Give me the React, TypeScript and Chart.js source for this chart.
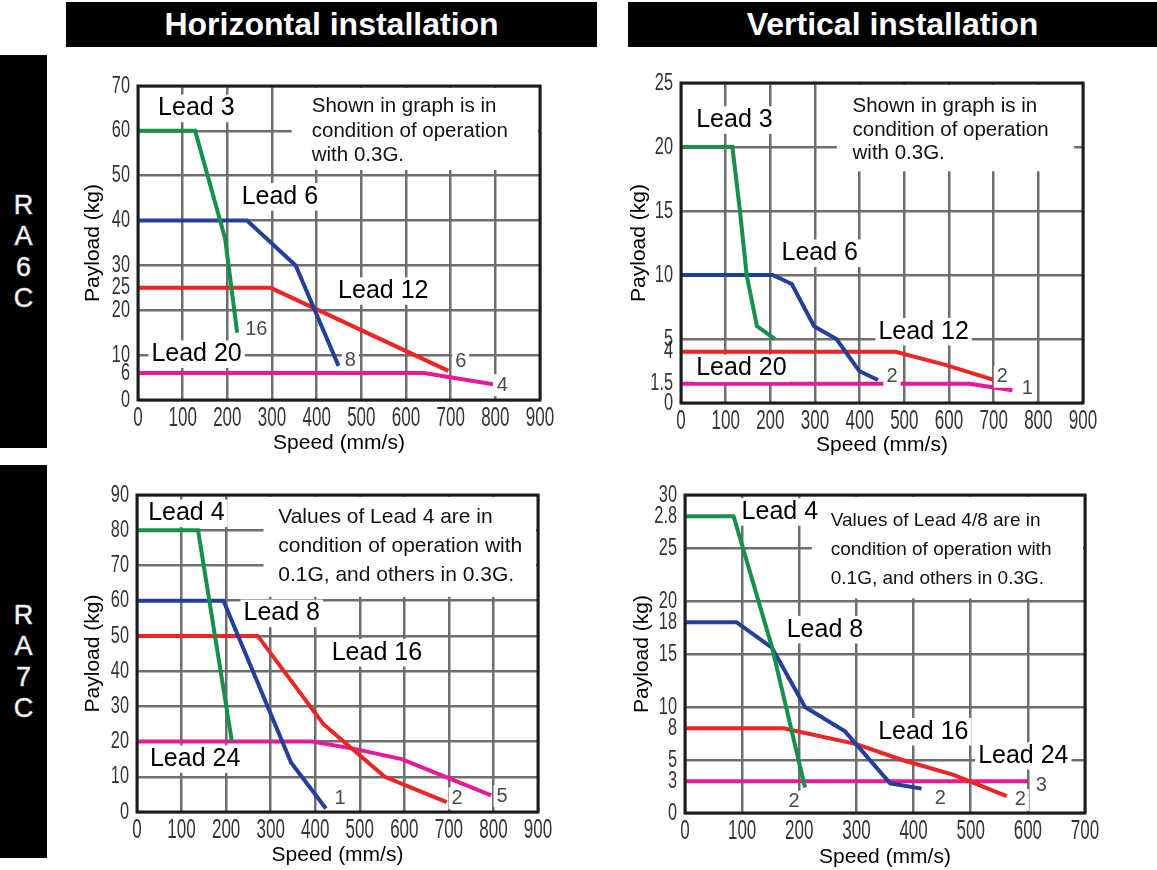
import React, { useEffect, useRef } from "react";
import { Chart, registerables } from "chart.js";

Chart.register(...registerables);

// ================= DATA =================
// RA6C – horizontal installation (speed mm/s, payload kg)
const h6Lead3Speed = [0, 128, 195, 222];
const h6Lead3Payload = [60, 60, 36, 15];
const h6Lead6Speed = [0, 244, 353, 449];
const h6Lead6Payload = [40, 40, 30, 7.6];
const h6Lead12Speed = [0, 297, 695];
const h6Lead12Payload = [25, 25, 6.5];
const h6Lead20Speed = [0, 640, 795];
const h6Lead20Payload = [6, 6, 3.5];
const h6XTicks = [0, 100, 200, 300, 400, 500, 600, 700, 800, 900];
const h6YTicks = [0, 6, 10, 20, 25, 30, 40, 50, 60, 70];
const h6YGrid = [0, 10, 20, 30, 40, 50, 60, 70];

// RA6C – vertical installation
const v6Lead3Speed = [0, 115, 132, 147, 170, 210];
const v6Lead3Payload = [20, 20, 15, 10, 6, 5];
const v6Lead6Speed = [0, 205, 248, 298, 348, 399, 441];
const v6Lead6Payload = [10, 10, 9.3, 6, 5, 2.5, 1.8];
const v6Lead12Speed = [0, 480, 590, 700];
const v6Lead12Payload = [4, 4, 3, 1.8];
const v6Lead20Speed = [0, 646, 742];
const v6Lead20Payload = [1.5, 1.5, 1];
const v6XTicks = [0, 100, 200, 300, 400, 500, 600, 700, 800, 900];
const v6YTicks = [0, 1.5, 4, 5, 10, 15, 20, 25];
const v6YGrid = [0, 5, 10, 15, 20, 25];

// RA7C – horizontal installation
const h7Lead4Speed = [0, 137, 213];
const h7Lead4Payload = [80, 80, 20];
const h7Lead8Speed = [0, 194, 346, 424];
const h7Lead8Payload = [60, 60, 14, 1];
const h7Lead16Speed = [0, 271, 418, 556, 695];
const h7Lead16Payload = [50, 50, 25, 10, 2.8];
const h7Lead24Speed = [0, 392, 485, 594, 795];
const h7Lead24Payload = [20, 20, 18, 15, 4.7];
const h7XTicks = [0, 100, 200, 300, 400, 500, 600, 700, 800, 900];
const h7YTicks = [0, 10, 20, 30, 40, 50, 60, 70, 80, 90];
const h7YGrid = [0, 10, 20, 30, 40, 50, 60, 70, 80, 90];

// RA7C – vertical installation
const v7Lead4Speed = [0, 85, 152, 210];
const v7Lead4Payload = [28, 28, 15.7, 2.4];
const v7Lead8Speed = [0, 90, 152, 210, 280, 359, 414];
const v7Lead8Payload = [18, 18, 15.6, 10, 7.7, 2.8, 2.3];
const v7Lead16Speed = [0, 172, 300, 380, 470, 563];
const v7Lead16Payload = [8, 8, 6.5, 5, 3.6, 1.6];
const v7Lead24Speed = [0, 600];
const v7Lead24Payload = [3, 3];
const v7XTicks = [0, 100, 200, 300, 400, 500, 600, 700];
const v7YTicks = [0, 3, 5, 8, 10, 15, 18, 20, 25, 28, 30];
const v7YGrid = [0, 5, 10, 15, 20, 25, 30];
const v7YTickText: Record<number, string> = { 28: "2.8" };

// Notes
const noteA = ["Shown in graph is in", "condition of operation", "with 0.3G."];
const noteB = ["Values of Lead 4 are in", "condition of operation with", "0.1G, and others in 0.3G."];
const noteC = ["Values of Lead 4/8 are in", "condition of operation with", "0.1G, and others in 0.3G."];

// ================= STYLE / LAYOUT =================
const GREEN = "#17904b";
const BLUE = "#223f9c";
const RED = "#ee2323";
const MAGENTA = "#e8189a";
const GRID = "#6e6e6e";
const SANS = "'Liberation Sans', Arial, 'DejaVu Sans', sans-serif";

type Series = { speed: number[]; payload: number[]; color: string };
type Txt = { text: string; x: number; y: number };
type Panel = {
  series: Series[];
  xMax: number;
  yMax: number;
  xTicks: number[];
  yTicks: number[];
  yGrid: number[];
  yTickText?: Record<number, string>;
  leads: Txt[];
  ends: Txt[];
  note: string[];
  noteX: number;
  noteYs: number[];
  noteSize: number;
  noteBox: [number, number, number, number];
  canvas: { left: number; top: number; w: number; h: number };
  area: { l: number; t: number; r: number; b: number };
  yTitlePad: number;
  xTitlePad: number;
};

const panels: Panel[] = [
  {
    series: [
      { speed: h6Lead3Speed, payload: h6Lead3Payload, color: GREEN },
      { speed: h6Lead6Speed, payload: h6Lead6Payload, color: BLUE },
      { speed: h6Lead12Speed, payload: h6Lead12Payload, color: RED },
      { speed: h6Lead20Speed, payload: h6Lead20Payload, color: MAGENTA },
    ],
    xMax: 900,
    yMax: 70,
    xTicks: h6XTicks,
    yTicks: h6YTicks,
    yGrid: h6YGrid,
    leads: [
      { text: "Lead 3", x: 45, y: 65 },
      { text: "Lead 6", x: 232, y: 45.3 },
      { text: "Lead 12", x: 448, y: 24.3 },
      { text: "Lead 20", x: 30, y: 10.2 },
    ],
    ends: [
      { text: "16", x: 240, y: 15.8 },
      { text: "8", x: 463, y: 8.9 },
      { text: "6", x: 710, y: 8.5 },
      { text: "4", x: 803, y: 3.3 },
    ],
    note: noteA,
    noteX: 389,
    noteYs: [65.4, 60.0, 54.6],
    noteSize: 20.5,
    noteBox: [344, 70, 900, 51.3],
    canvas: { left: 60, top: 70, w: 500, h: 390 },
    area: { l: 138, t: 86, r: 540, b: 400 },
    yTitlePad: 21,
    xTitlePad: 4.4,
  },
  {
    series: [
      { speed: v6Lead3Speed, payload: v6Lead3Payload, color: GREEN },
      { speed: v6Lead6Speed, payload: v6Lead6Payload, color: BLUE },
      { speed: v6Lead12Speed, payload: v6Lead12Payload, color: RED },
      { speed: v6Lead20Speed, payload: v6Lead20Payload, color: MAGENTA },
    ],
    xMax: 900,
    yMax: 25,
    xTicks: v6XTicks,
    yTicks: v6YTicks,
    yGrid: v6YGrid,
    leads: [
      { text: "Lead 3", x: 34, y: 22.1 },
      { text: "Lead 6", x: 225, y: 11.7 },
      { text: "Lead 12", x: 442, y: 5.57 },
      { text: "Lead 20", x: 34, y: 2.71 },
    ],
    ends: [
      { text: "2", x: 460, y: 2.05 },
      { text: "2", x: 707, y: 2.05 },
      { text: "1", x: 763, y: 1.15 },
    ],
    note: noteA,
    noteX: 384,
    noteYs: [23.15, 21.3, 19.5],
    noteSize: 20.5,
    noteBox: [349, 25, 880, 18.1],
    canvas: { left: 620, top: 65, w: 490, h: 400 },
    area: { l: 681, t: 83, r: 1083, b: 403 },
    yTitlePad: 6.4,
    xTitlePad: 7.4,
  },
  {
    series: [
      { speed: h7Lead4Speed, payload: h7Lead4Payload, color: GREEN },
      { speed: h7Lead8Speed, payload: h7Lead8Payload, color: BLUE },
      { speed: h7Lead16Speed, payload: h7Lead16Payload, color: RED },
      { speed: h7Lead24Speed, payload: h7Lead24Payload, color: MAGENTA },
    ],
    xMax: 900,
    yMax: 90,
    xTicks: h7XTicks,
    yTicks: h7YTicks,
    yGrid: h7YGrid,
    leads: [
      { text: "Lead 4", x: 25, y: 84.8 },
      { text: "Lead 8", x: 239, y: 56.4 },
      { text: "Lead 16", x: 437, y: 45.2 },
      { text: "Lead 24", x: 29, y: 15.0 },
    ],
    ends: [
      { text: "1", x: 443, y: 3.9 },
      { text: "2", x: 706, y: 3.9 },
      { text: "5", x: 807, y: 4.5 },
    ],
    note: noteB,
    noteX: 317,
    noteYs: [83.8, 75.6, 67.3],
    noteSize: 21,
    noteBox: [284, 90, 900, 61.1],
    canvas: { left: 60, top: 478, w: 500, h: 392 },
    area: { l: 137, t: 495, r: 538, b: 812 },
    yTitlePad: 21,
    xTitlePad: 2.4,
  },
  {
    series: [
      { speed: v7Lead4Speed, payload: v7Lead4Payload, color: GREEN },
      { speed: v7Lead8Speed, payload: v7Lead8Payload, color: BLUE },
      { speed: v7Lead16Speed, payload: v7Lead16Payload, color: RED },
      { speed: v7Lead24Speed, payload: v7Lead24Payload, color: MAGENTA },
    ],
    xMax: 700,
    yMax: 30,
    xTicks: v7XTicks,
    yTicks: v7YTicks,
    yGrid: v7YGrid,
    yTickText: v7YTickText,
    leads: [
      { text: "Lead 4", x: 99, y: 28.4 },
      { text: "Lead 8", x: 178, y: 17.3 },
      { text: "Lead 16", x: 338, y: 7.67 },
      { text: "Lead 24", x: 513, y: 5.38 },
    ],
    ends: [
      { text: "2", x: 181, y: 1.07 },
      { text: "2", x: 437, y: 1.38 },
      { text: "2", x: 577, y: 1.23 },
      { text: "3", x: 614, y: 2.55 },
    ],
    note: noteC,
    noteX: 255,
    noteYs: [27.6, 24.8, 22.1],
    noteSize: 19,
    noteBox: [222, 30, 700, 20.25],
    canvas: { left: 620, top: 478, w: 490, h: 392 },
    area: { l: 685, t: 495, r: 1085, b: 813 },
    yTitlePad: 9.4,
    xTitlePad: 0.4,
  },
];

function drawBoxedText(ctx: CanvasRenderingContext2D, text: string, px: number, py: number, size: number, color: string) {
  const w = ctx.measureText(text).width;
  ctx.fillStyle = "#fff";
  ctx.fillRect(px - 3, py - size * 0.55, w + 6, size * 1.1);
  ctx.fillStyle = color;
  ctx.fillText(text, px, py);
}

function makeDecor(p: Panel) {
  return {
    id: "decor",
    beforeDatasetsDraw(chart: any) {
      const { ctx, chartArea } = chart;
      const x = chart.scales.x;
      const y = chart.scales.y;
      const [bx1, by1, bx2, by2] = p.noteBox;
      ctx.save();
      const left = x.getPixelForValue(bx1);
      const right = Math.min(x.getPixelForValue(bx2), chartArea.right - 2);
      const top = Math.max(y.getPixelForValue(by1), chartArea.top + 2);
      const bottom = y.getPixelForValue(by2);
      ctx.fillStyle = "#fff";
      ctx.fillRect(left, top, right - left, bottom - top);
      ctx.fillStyle = "#111";
      ctx.font = `${p.noteSize}px ${SANS}`;
      ctx.textBaseline = "middle";
      ctx.textAlign = "left";
      p.note.forEach((line, i) => {
        ctx.fillText(line, x.getPixelForValue(p.noteX), y.getPixelForValue(p.noteYs[i]));
      });
      ctx.restore();
    },
    afterDatasetsDraw(chart: any) {
      const { ctx } = chart;
      const x = chart.scales.x;
      const y = chart.scales.y;
      ctx.save();
      ctx.textBaseline = "middle";
      ctx.textAlign = "left";
      ctx.font = `20px ${SANS}`;
      p.ends.forEach((t) => drawBoxedText(ctx, t.text, x.getPixelForValue(t.x), y.getPixelForValue(t.y), 20, "#4a4a4a"));
      ctx.font = `25px ${SANS}`;
      p.leads.forEach((t) => drawBoxedText(ctx, t.text, x.getPixelForValue(t.x), y.getPixelForValue(t.y), 25, "#000"));
      ctx.restore();
    },
    afterDraw(chart: any) {
      const { ctx, chartArea } = chart;
      const x = chart.scales.x;
      const y = chart.scales.y;
      ctx.save();
      // condensed tick labels, taken from the library's own tick lists
      ctx.fillStyle = "#333";
      ctx.textBaseline = "middle";
      ctx.font = `27px ${SANS}`;
      ctx.textAlign = "center";
      x.ticks.forEach((t: any, i: number) => {
        const px = x.getPixelForTick(i);
        ctx.save();
        ctx.translate(px, chartArea.bottom + 19);
        ctx.scale(0.63, 1);
        ctx.fillText(String(t.label), 0, 0);
        ctx.restore();
      });
      ctx.font = `24px ${SANS}`;
      ctx.textAlign = "right";
      y.ticks.forEach((t: any, i: number) => {
        const py = y.getPixelForTick(i);
        ctx.save();
        ctx.translate(chartArea.left - 8, py);
        ctx.scale(0.68, 1);
        ctx.fillText(String(t.label), 0, 0);
        ctx.restore();
      });
      // plot frame
      ctx.strokeStyle = "#1c1c1c";
      ctx.lineWidth = 3;
      ctx.strokeRect(chartArea.left, chartArea.top, chartArea.right - chartArea.left, chartArea.bottom - chartArea.top);
      ctx.restore();
    },
  };
}

function PanelChart({ p }: { p: Panel }) {
  const ref = useRef<HTMLCanvasElement | null>(null);
  useEffect(() => {
    if (!ref.current) return;
    const { canvas, area } = p;
    const chart = new Chart(ref.current, {
      type: "line",
      data: {
        datasets: p.series.map((s) => ({
          data: s.speed.map((v, i) => ({ x: v, y: s.payload[i] })),
          borderColor: s.color,
          backgroundColor: s.color,
          borderWidth: 4,
          pointRadius: 0,
          tension: 0,
          fill: false,
        })),
      },
      options: {
        responsive: false,
        animation: false,
        events: [],
        layout: {
          padding: {
            left: 0,
            top: area.t - canvas.top,
            right: canvas.left + canvas.w - area.r,
            bottom: 0,
          },
        },
        plugins: { legend: { display: false }, tooltip: { enabled: false } },
        scales: {
          x: {
            type: "linear",
            min: 0,
            max: p.xMax,
            afterBuildTicks: (s: any) => {
              s.ticks = p.xTicks.map((v) => ({ value: v }));
            },
            afterFit: (s: any) => {
              s.height = canvas.top + canvas.h - area.b;
            },
            ticks: {
              display: false,
              autoSkip: false,
              maxRotation: 0,
              callback: (v: any) => String(v),
            },
            grid: { color: GRID, lineWidth: 2.5, drawTicks: false },
            border: { display: false },
            title: {
              display: true,
              text: "Speed (mm/s)",
              color: "#000",
              font: { family: SANS, size: 21 },
              padding: { top: 0, bottom: p.xTitlePad },
            },
          },
          y: {
            type: "linear",
            min: 0,
            max: p.yMax,
            afterBuildTicks: (s: any) => {
              s.ticks = p.yTicks.map((v) => ({ value: v }));
            },
            afterFit: (s: any) => {
              s.width = area.l - canvas.left;
            },
            ticks: {
              display: false,
              autoSkip: false,
              callback: (v: any) => (p.yTickText && p.yTickText[v] ? p.yTickText[v] : String(v)),
            },
            grid: {
              color: (c: any) => (c.tick && p.yGrid.includes(c.tick.value) ? GRID : "rgba(0,0,0,0)"),
              lineWidth: 2.5,
              drawTicks: false,
            },
            border: { display: false },
            title: {
              display: true,
              text: "Payload (kg)",
              color: "#000",
              font: { family: SANS, size: 21 },
              padding: { top: p.yTitlePad, bottom: 0 },
            },
          },
        },
      } as any,
      plugins: [makeDecor(p)],
    });
    return () => chart.destroy();
  }, [p]);
  return (
    <canvas
      ref={ref}
      width={p.canvas.w}
      height={p.canvas.h}
      style={{ position: "absolute", left: p.canvas.left, top: p.canvas.top, width: p.canvas.w, height: p.canvas.h }}
    />
  );
}

function Header({ left, width, text }: { left: number; width: number; text: string }) {
  return (
    <div
      style={{
        position: "absolute",
        left,
        top: 2,
        width,
        height: 45,
        background: "#000",
        color: "#fff",
        font: `bold 32px ${SANS}`,
        display: "flex",
        alignItems: "center",
        justifyContent: "center",
      }}
    >
      {text}
    </div>
  );
}

function SideBar({ top, text }: { top: number; text: string }) {
  return (
    <div
      style={{
        position: "absolute",
        left: 0,
        top,
        width: 47,
        height: 393,
        background: "#000",
        color: "#fff",
        display: "flex",
        flexDirection: "column",
        alignItems: "center",
        justifyContent: "center",
        font: `27px ${SANS}`,
        WebkitTextStroke: "0.6px #cfcfcf",
      }}
    >
      {text.split("").map((ch, i) => (
        <div key={i} style={{ height: 31, lineHeight: "31px" }}>
          {ch}
        </div>
      ))}
    </div>
  );
}

export default function App() {
  return (
    <div
      style={{
        position: "absolute",
        left: 0,
        top: 0,
        width: 1157,
        height: 870,
        background: "#fff",
        overflow: "hidden",
      }}
    >
      <Header left={66} width={531} text="Horizontal installation" />
      <Header left={628} width={529} text="Vertical installation" />
      <SideBar top={55} text="RA6C" />
      <SideBar top={465} text="RA7C" />
      {panels.map((p, i) => (
        <PanelChart key={i} p={p} />
      ))}
    </div>
  );
}
